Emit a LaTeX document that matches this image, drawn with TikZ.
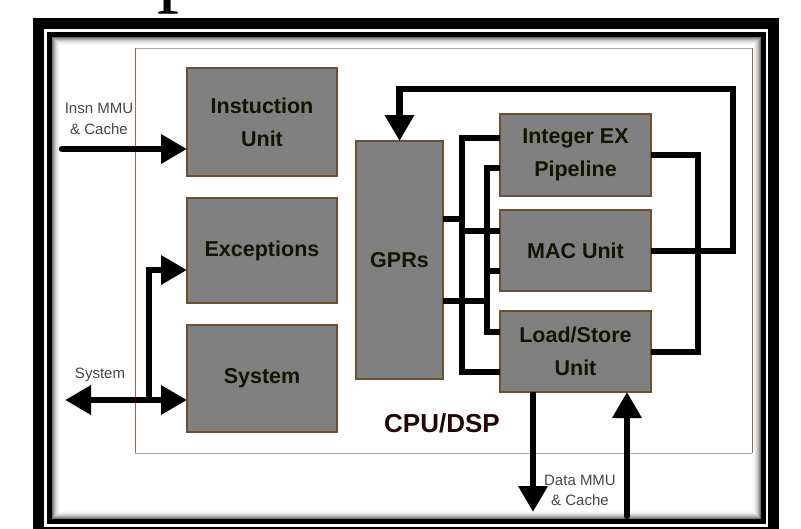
\documentclass[tikz,border=0pt]{standalone}
\usepackage{fontspec}
\setmainfont{Liberation Sans}
\newfontfamily\titleserif{Liberation Serif}
\usetikzlibrary{arrows.meta}
\definecolor{boxgray}{HTML}{808080}
\definecolor{boxedge}{HTML}{6E5030}
\definecolor{boxtext}{HTML}{141402}
\definecolor{lblgray}{HTML}{474747}
\definecolor{cputext}{HTML}{240606}
\definecolor{paneledge}{HTML}{9A6A5A}
\begin{document}
\begin{tikzpicture}[x=1pt,y=-1pt,
  unit/.style={draw=boxedge, line width=1.2pt, fill=boxgray, inner sep=0pt, outer sep=0pt,
    align=center, font=\fontsize{21.5}{33}\selectfont\bfseries, text=boxtext},
  bus/.style={line width=6.5pt, black},
  bigtip/.style={-{Triangle[length=26pt,width=28pt]}},
  lbl/.style={font=\fontsize{15}{20.5}\selectfont, text=lblgray, align=center, inner sep=0pt}
]
\useasboundingbox (0,0) rectangle (801,528);
\fill[white] (0,0) rectangle (801,528);
% cut-off title glyph
\node[anchor=base west, inner sep=0pt, font=\titleserif\fontsize{88}{88}\selectfont] (ttl) at (157,-4.5) {p};
% frames
\draw[line width=11pt] (38.5,23.5) rectangle (773.5,532.5);
\draw[line width=5pt] (49.5,34.5) rectangle (763.5,521.5);
\foreach \i/\c in {1/55,2/42,3/31,4/22,5/15,6/9,7/5,8/2}
  \draw[black!\c, line width=1pt] (52+\i-0.5,37+\i-0.5) rectangle (761-\i+0.5,519-\i+0.5);
% panel
\draw[gray!70, line width=1pt] (135,48) -- (752,48) (135,453) -- (752,453);
\draw[paneledge, line width=1pt] (135,48) -- (135,453) (752,48) -- (752,453);
% units
\node[unit, minimum width=150pt, minimum height=108pt] (iu) at (262,122) {Instuction\\Unit};
\node[unit, minimum width=150pt, minimum height=105pt] (ex) at (262,250.5) {Exceptions};
\node[unit, minimum width=150pt, minimum height=107pt] (sys) at (262,378.5) {System};
\node[unit, minimum width=87pt, minimum height=238pt] (gpr) at (399.5,260) {GPRs};
\node[unit, minimum width=151pt, minimum height=82pt] (iex) at (575.5,155) {Integer EX\\Pipeline};
\node[unit, minimum width=151pt, minimum height=81pt] (mac) at (575.5,250.5) {MAC Unit};
\node[unit, minimum width=151pt, minimum height=81pt] (lsu) at (575.5,351.5) {Load/Store\\Unit};
% coordinates
\coordinate (insnS) at (62,149);
\coordinate (sysL) at (65,400);
\coordinate (jn) at (149,400);
\coordinate (fbC) at (733,89);
\coordinate (dmD) at (533,512);
\coordinate (dmU) at (627,516);
% connectors
\draw[bus, bigtip, line cap=round] (insnS) -- (iu.west |- insnS);
\draw[bus, {Triangle[length=26pt,width=28pt]}-{Triangle[length=26pt,width=28pt]}] (sysL) -- (sys.west |- sysL);
\draw[bus, bigtip] (jn) |- (ex.west |- 0,270);
\draw[bus, bigtip] (mac.east |- 0,251) -| (fbC) -| (gpr.north);
\draw[bus] (iex.east |- 0,155) -| (698,352) -- (lsu.east |- 0,352);
% bus 1
\draw[bus] (gpr.east |- 0,219) -- (462,219);
\draw[bus] (iex.west |- 0,138) -| (462,372) -- (lsu.west |- 0,372);
\draw[bus] (462,231) -- (mac.west |- 0,231);
% bus 2
\draw[bus] (gpr.east |- 0,301) -- (487,301);
\draw[bus] (iex.west |- 0,168) -| (487,332) -- (lsu.west |- 0,332);
\draw[bus] (487,271) -- (mac.west |- 0,271);
% data mmu
\draw[bus, bigtip] (lsu.south -| dmD) -- (dmD);
\draw[bus, bigtip, line cap=round] (dmU) -- (lsu.south -| dmU);
% labels
\node[lbl] (insnlbl) at (99,119) {Insn MMU\\\& Cache};
\node[lbl] (syslbl) at (100,375) {System};
\node[lbl] (dmlbl) at (580,490.5) {Data MMU\\\& Cache};
\node[font=\fontsize{26}{26}\selectfont\bfseries, text=cputext, inner sep=0pt] (cpu) at (442,423) {CPU/DSP};
\end{tikzpicture}
\end{document}
